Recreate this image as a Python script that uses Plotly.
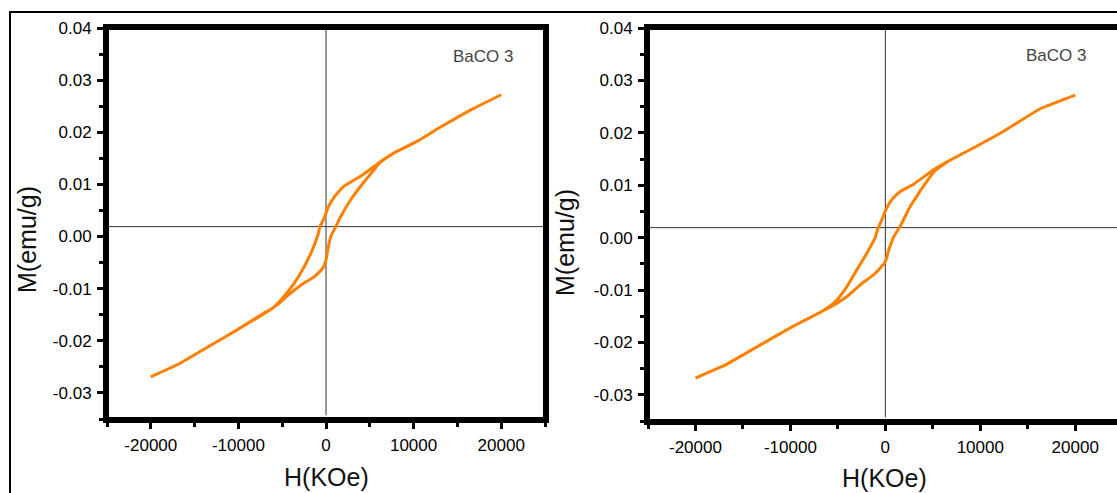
import plotly.graph_objects as go

# ---------------- data ----------------
# Left panel: descending branch (+H -> -H) then ascending branch (-H -> +H)
H_LEFT_DESC = [20000, 16640, 12990, 10550, 7710, 6100, 3980, 2080, 950, 190, -190, -640,
               -950, -1520, -2460, -3600, -5100, -6060, -6900, -10150, -13400, -16640, -20000]
M_LEFT_DESC = [0.0272, 0.0244, 0.0209, 0.0184, 0.0160, 0.0142, 0.0116, 0.0097, 0.0076, 0.0054,
               0.0036, 0.0021, 0.0002, -0.0024, -0.0057, -0.0089, -0.0121, -0.0137, -0.0145,
               -0.0179, -0.0211, -0.0243, -0.0269]
H_LEFT_ASC = [-20000, -16640, -13400, -10150, -6900, -5500, -4350, -2840, -1330, -380, 0, 190,
              570, 1140, 1700, 2840, 3980, 5490, 6100, 7710, 10550, 12990, 16640, 20000]
M_LEFT_ASC = [-0.0269, -0.0243, -0.0211, -0.0179, -0.0146, -0.0130, -0.0113, -0.0093, -0.0077,
              -0.0061, -0.0045, -0.0026, 0.0001, 0.0020, 0.0039, 0.0071, 0.0097, 0.0128, 0.0141,
              0.0160, 0.0184, 0.0209, 0.0244, 0.0272]

# Right panel
H_RIGHT_DESC = [20000, 16220, 12460, 9460, 6840, 5200, 2980, 1580, 700, 0, -350, -810, -1050,
                -1930, -2980, -4030, -5260, -6700, -10090, -13470, -16850, -20000]
M_RIGHT_DESC = [0.0272, 0.0245, 0.0203, 0.0173, 0.0148, 0.0131, 0.0102, 0.0088, 0.0073, 0.0051,
                0.0035, 0.0016, 0.0001, -0.0029, -0.0061, -0.0093, -0.0122, -0.0141, -0.0173,
                -0.0208, -0.0243, -0.0268]
H_RIGHT_ASC = [-20000, -16850, -13470, -10090, -6700, -5260, -4000, -2630, -1050, 0, 350, 870,
               1580, 2460, 3680, 5200, 6840, 9460, 12460, 16220, 20000]
M_RIGHT_ASC = [-0.0268, -0.0243, -0.0208, -0.0173, -0.0141, -0.0127, -0.0112, -0.0090, -0.0068,
               -0.0046, -0.0024, 0.0001, 0.0022, 0.0054, 0.0089, 0.0127, 0.0148, 0.0173, 0.0203,
               0.0245, 0.0272]

X_TICKS = [-20000, -10000, 0, 10000, 20000]
X_TICK_LABELS = ["-20000", "-10000", "0", "10000", "20000"]
X_MINOR = [-25000, -15000, -5000, 5000, 15000, 25000]
Y_TICKS = [-0.03, -0.02, -0.01, 0.00, 0.01, 0.02, 0.03, 0.04]
Y_TICK_LABELS = ["-0.03", "-0.02", "-0.01", "0.00", "0.01", "0.02", "0.03", "0.04"]
Y_MINOR = [-0.035, -0.025, -0.015, -0.005, 0.005, 0.015, 0.025, 0.035]
H_ZERO_LINE = 0.0019
SAMPLE = "BaCO 3"
X_TITLE = "H(KOe)"
Y_TITLE = "M(emu/g)"

# ---------------- figure ----------------
W, H = 1117, 493
ORANGE = "#FF8000"

def px(x):
    return x / W

def py(y):
    return 1 - y / H

fig = go.Figure()
fig.add_trace(go.Scatter(x=H_LEFT_DESC + H_LEFT_ASC[1:], y=M_LEFT_DESC + M_LEFT_ASC[1:],
                         mode="lines", line=dict(color=ORANGE, width=3, shape="spline", smoothing=0.4),
                         xaxis="x", yaxis="y", showlegend=False))
fig.add_trace(go.Scatter(x=H_RIGHT_DESC + H_RIGHT_ASC[1:], y=M_RIGHT_DESC + M_RIGHT_ASC[1:],
                         mode="lines", line=dict(color=ORANGE, width=3, shape="spline", smoothing=0.4),
                         xaxis="x2", yaxis="y2", showlegend=False))

tickfont = dict(family="Arial, Liberation Sans", size=17, color="black")

def xaxis(domain, rng, anchor):
    return dict(domain=domain, range=rng, anchor=anchor, showline=True, linecolor="black",
                linewidth=4, mirror=True, showgrid=False, zeroline=False,
                tickmode="array", tickvals=X_TICKS, ticktext=X_TICK_LABELS,
                ticks="outside", ticklen=6, tickwidth=3, tickcolor="black",
                minor=dict(tickvals=X_MINOR, ticks="outside", ticklen=4, tickwidth=3,
                           tickcolor="black", showgrid=False),
                tickfont=tickfont, automargin=False, ticklabelstandoff=2)

def yaxis(domain, anchor, mirror):
    return dict(domain=domain, range=[-0.035, 0.04], anchor=anchor, showline=True,
                linecolor="black", linewidth=4, mirror=mirror, showgrid=False, zeroline=False,
                tickmode="array", tickvals=Y_TICKS, ticktext=Y_TICK_LABELS,
                ticks="outside", ticklen=6, tickwidth=3, tickcolor="black",
                minor=dict(tickvals=Y_MINOR, ticks="outside", ticklen=4, tickwidth=3,
                           tickcolor="black", showgrid=False),
                tickfont=tickfont, automargin=False, ticklabelstandoff=2)

frame = dict(color="black", width=4)
shapes = [
    # outer frame
    dict(type="rect", xref="paper", yref="paper", x0=px(10), x1=1.2, y0=-0.2, y1=py(12),
         line=dict(color="black", width=2), layer="above"),
    # bold panel frames
    dict(type="rect", xref="x domain", yref="y domain", x0=0, x1=1, y0=0, y1=1,
         line=frame, layer="above"),
    dict(type="line", xref="x2 domain", yref="y2 domain", x0=0, x1=0, y0=0, y1=1,
         line=frame, layer="above"),
    dict(type="line", xref="x2 domain", yref="y2 domain", x0=0, x1=1.05, y0=1, y1=1,
         line=frame, layer="above"),
    dict(type="line", xref="x2 domain", yref="y2 domain", x0=0, x1=1.05, y0=0, y1=0,
         line=frame, layer="above"),
]
for xa, ya in (("x", "y"), ("x2", "y2")):
    shapes.append(dict(type="line", xref=f"{xa} domain", yref=ya, x0=0, x1=1,
                       y0=H_ZERO_LINE, y1=H_ZERO_LINE, line=dict(color="#333333", width=1),
                       layer="below"))
    shapes.append(dict(type="line", xref=xa, yref=ya, x0=0, x1=0, y0=-0.0343, y1=0.04,
                       line=dict(color="#333333", width=1), layer="below"))

titlefont = dict(family="Arial, Liberation Sans", size=25, color="#111111")
annotations = [
    dict(text=Y_TITLE, x=px(27), y=py(240), xref="paper", yref="paper", textangle=-90,
         showarrow=False, font=titlefont, xanchor="center", yanchor="middle"),
    dict(text=Y_TITLE, x=px(565), y=py(243), xref="paper", yref="paper", textangle=-90,
         showarrow=False, font=titlefont, xanchor="center", yanchor="middle"),
    dict(text=X_TITLE, x=px(326), y=py(477), xref="paper", yref="paper",
         showarrow=False, font=titlefont, xanchor="center", yanchor="middle"),
    dict(text=X_TITLE, x=px(884), y=py(478), xref="paper", yref="paper",
         showarrow=False, font=titlefont, xanchor="center", yanchor="middle"),
    dict(text=SAMPLE, x=px(483), y=py(57), xref="paper", yref="paper",
         showarrow=False, font=dict(family="Arial, Liberation Sans", size=17, color="#444444"),
         xanchor="center", yanchor="middle"),
    dict(text=SAMPLE, x=px(1056), y=py(55), xref="paper", yref="paper",
         showarrow=False, font=dict(family="Arial, Liberation Sans", size=17, color="#444444"),
         xanchor="center", yanchor="middle"),
]

fig.update_layout(
    width=W, height=H, margin=dict(l=0, r=0, t=0, b=0),
    paper_bgcolor="white", plot_bgcolor="white",
    xaxis=xaxis([px(107), px(545)], [-25000, 25000], "y"),
    yaxis=yaxis([py(419), py(28)], "x", True),
    xaxis2=xaxis([px(648), 1.0], [-25000, 24400], "y2"),
    yaxis2=yaxis([py(421), py(28)], "x2", False),
    shapes=shapes, annotations=annotations,
)

fig.write_html("out.html")
